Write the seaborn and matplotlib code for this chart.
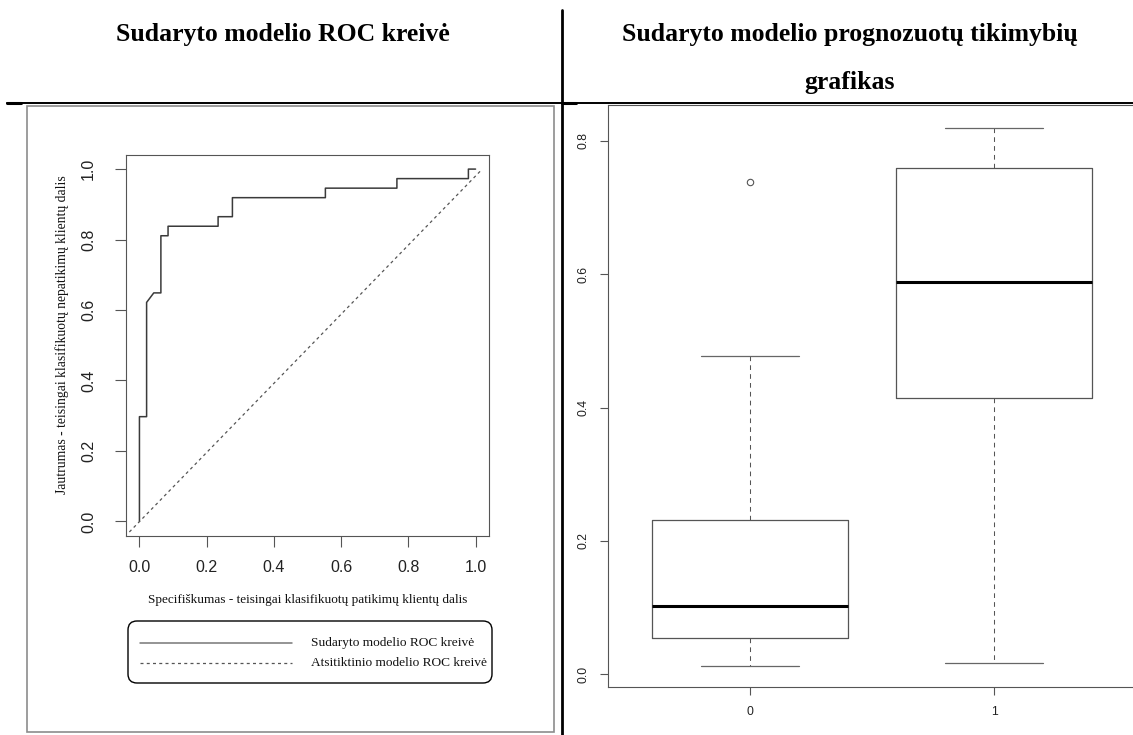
import matplotlib
matplotlib.use("Agg")
import matplotlib.pyplot as plt
from matplotlib.lines import Line2D
from matplotlib.patches import Rectangle, FancyBboxPatch
import seaborn as sns

# ---- data -------------------------------------------------------------
# ROC curve of the fitted model (x: 1 - specificity, y: sensitivity)
roc_fpr = [0.0, 0.0, 0.0213, 0.0213, 0.0426, 0.0638, 0.0638, 0.0851, 0.0851,
           0.2340, 0.2340, 0.2766, 0.2766, 0.5532, 0.5532, 0.7660, 0.7660,
           0.9787, 0.9787, 1.0]
roc_tpr = [0.0, 0.2973, 0.2973, 0.6216, 0.6486, 0.6486, 0.8108, 0.8108, 0.8378,
           0.8378, 0.8649, 0.8649, 0.9189, 0.9189, 0.9459, 0.9459, 0.9730,
           0.9730, 1.0, 1.0]
# reference line of a random classifier
rand_x = [-0.03, 1.02]
rand_y = [-0.03, 1.00]

# predicted probabilities by observed class: five-number summaries
classes = ["0", "1"]
whisker_low = [0.013, 0.017]
quart_1 = [0.054, 0.414]
medians = [0.103, 0.589]
quart_3 = [0.232, 0.759]
whisker_high = [0.478, 0.820]
outliers = [[0.739], []]

roc_ticks = [0.0, 0.2, 0.4, 0.6, 0.8, 1.0]
prob_ticks = [0.0, 0.2, 0.4, 0.6, 0.8]

titles = ["Sudaryto modelio ROC kreivė",
          "Sudaryto modelio prognozuotų tikimybių", "grafikas"]
roc_xlabel = "Specifiškumas - teisingai klasifikuotų patikimų klientų dalis"
roc_ylabel = "Jautrumas - teisingai klasifikuotų nepatikimų klientų dalis"
legend_labels = ["Sudaryto modelio ROC kreivė", "Atsitiktinio modelio ROC kreivė"]

# ---- style ------------------------------------------------------------
sns.set_theme(style="ticks")
plt.rcParams["font.family"] = ["Liberation Sans", "DejaVu Sans"]

W, H = 1133, 735
fig = plt.figure(figsize=(W / 100, H / 100), dpi=100)
fig.patch.set_facecolor("white")


def fx(px):
    return px / W


def fy(py):
    return 1 - py / H


def rect(x0, y0, x1, y1):
    return [fx(x0), fy(y1), fx(x1) - fx(x0), fy(y0) - fy(y1)]


serif = "Liberation Serif"
axis_grey = "#555555"
solid_grey = "#3a3a3a"
dash_grey = "#555555"
dash_style = (0, (2.4, 2.6))

# ---- page furniture: table rules, cell titles, image border --------------
deco = fig.add_axes([0, 0, 1, 1], zorder=0)
deco.set_xlim(0, W)
deco.set_ylim(H, 0)
deco.axis("off")
deco.add_line(Line2D([7, W], [102.5, 102.5], color="black", lw=1.4))
deco.add_line(Line2D([7, 21], [103, 103], color="black", lw=2.2))
deco.add_line(Line2D([562, 576], [103, 103], color="black", lw=2.2))
deco.add_line(Line2D([562, 562], [10, H], color="black", lw=2.0))
deco.add_patch(Rectangle((27, 106), 527, 626, fill=False,
                         edgecolor="#8c8c8c", lw=1.2))

fig.text(fx(283), fy(34), titles[0], family=serif, weight="bold",
         size=18.5, ha="center", va="center", color="black")
fig.text(fx(850), fy(35), titles[1], family=serif, weight="bold",
         size=18.5, ha="center", va="center", color="black")
fig.text(fx(850), fy(82), titles[2], family=serif, weight="bold",
         size=18.5, ha="center", va="center", color="black")

# ---- left: ROC curve -----------------------------------------------------
ax1 = fig.add_axes(rect(126, 155, 489, 535.5), zorder=2)
sns.lineplot(x=roc_fpr, y=roc_tpr, sort=False, estimator=None, ax=ax1,
             color=solid_grey, linewidth=1.1)
ax1.plot(rand_x, rand_y, color=dash_grey, lw=0.9, linestyle=dash_style)
ax1.set_xlim(-0.04, 1.04)
ax1.set_ylim(-0.04, 1.04)
ax1.set_xticks(roc_ticks)
ax1.set_yticks(roc_ticks)
ax1.set_xticklabels([f"{t:.1f}" for t in roc_ticks])
ax1.set_yticklabels([f"{t:.1f}" for t in roc_ticks])
for sp in ax1.spines.values():
    sp.set_visible(True)
    sp.set_color(axis_grey)
    sp.set_linewidth(0.8)
ax1.tick_params(axis="both", direction="out", length=8, width=0.8,
                color=axis_grey, labelsize=11.5, labelcolor="#222222")
ax1.tick_params(axis="y", pad=19)
ax1.tick_params(axis="x", pad=15)
plt.setp(ax1.get_yticklabels(), rotation=90, ha="center", va="center")
plt.setp(ax1.get_xticklabels(), va="center")

fig.text(fx(307.5), fy(600), roc_xlabel, family=serif, size=9.5,
         ha="center", va="center", color="#111111")
fig.text(fx(62), fy(335), roc_ylabel, family=serif, size=9.8,
         ha="center", va="center", rotation=90, color="#111111")

# legend below the ROC plot: rounded box, line samples, labels
deco.add_patch(FancyBboxPatch((128, 621), 364, 62,
                              boxstyle="round,pad=0,rounding_size=9",
                              fill=False, edgecolor="black", lw=1.0))
deco.add_line(Line2D([140, 292], [643, 643], color="#777777", lw=1.1))
deco.add_line(Line2D([140, 292], [663, 663], color=dash_grey, lw=0.9,
                     linestyle=dash_style))
for yy, lab in zip([643, 663], legend_labels):
    deco.text(311, yy, lab, family=serif, size=9.6, ha="left",
              va="center", color="#111111")

# ---- right: predicted probabilities boxplot --------------------------------
ax2 = fig.add_axes(rect(608.3, 105.3, 1135.7, 687.3), zorder=2)
stats = []
for i, name in enumerate(classes):
    stats.append(dict(label=name, whislo=whisker_low[i], q1=quart_1[i],
                      med=medians[i], q3=quart_3[i], whishi=whisker_high[i],
                      fliers=outliers[i]))
ax2.bxp(stats, positions=[0, 1], widths=0.8, capwidths=0.4,
        showfliers=True,
        boxprops=dict(color="#555555", lw=0.9),
        medianprops=dict(color="black", lw=2.2, solid_capstyle="butt"),
        whiskerprops=dict(color="#555555", lw=0.75, linestyle=(0, (4.5, 4))),
        capprops=dict(color="#666666", lw=0.9),
        flierprops=dict(marker="o", markersize=4.6, markerfacecolor="none",
                        markeredgecolor="#555555", markeredgewidth=0.8))
ax2.set_xlim(-0.578, 1.578)
ax2.set_ylim(-0.0195, 0.8535)
ax2.set_xticks([0, 1])
ax2.set_xticklabels(classes)
ax2.set_yticks(prob_ticks)
ax2.set_yticklabels([f"{t:.1f}" for t in prob_ticks])
for sp in ax2.spines.values():
    sp.set_visible(True)
    sp.set_color(axis_grey)
    sp.set_linewidth(0.8)
ax2.tick_params(axis="both", direction="out", length=5.8, width=0.8,
                color=axis_grey, labelsize=8.8, labelcolor="#222222")
ax2.tick_params(axis="y", pad=11.7)
ax2.tick_params(axis="x", pad=11.8)
plt.setp(ax2.get_yticklabels(), rotation=90, ha="center", va="center")
plt.setp(ax2.get_xticklabels(), va="center")

fig.savefig("out.png", dpi=100, facecolor="white")
